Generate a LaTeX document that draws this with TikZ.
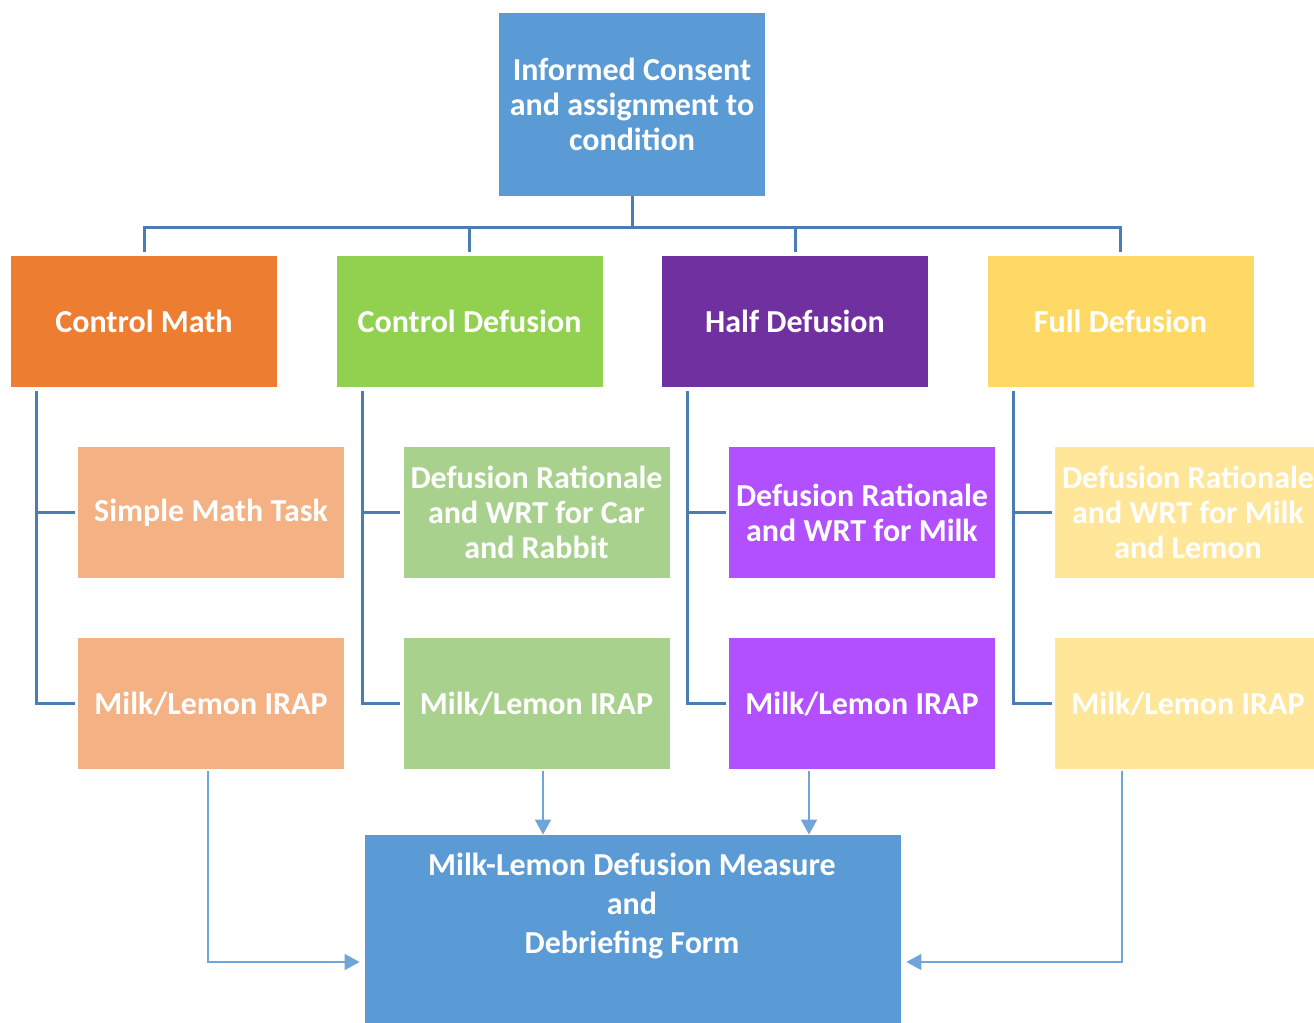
\documentclass[tikz,border=0pt]{standalone}
\usepackage{fontspec}
\setmainfont{Carlito}
\usetikzlibrary{arrows.meta}
\definecolor{cblue}{HTML}{5B9BD5}
\definecolor{corange}{HTML}{ED7D31}
\definecolor{cgreen}{HTML}{92D050}
\definecolor{cpurple}{HTML}{7030A0}
\definecolor{cyellow}{HTML}{FFD966}
\definecolor{lorange}{HTML}{F4B183}
\definecolor{lgreen}{HTML}{A9D18E}
\definecolor{lpurple}{HTML}{B24FFF}
\definecolor{lyellow}{HTML}{FFE699}
\definecolor{treec}{HTML}{4A7EB2}
\definecolor{arrc}{HTML}{6FA5DA}
\tikzset{
  box/.style={rectangle, inner sep=0pt, minimum width=133pt, minimum height=65.5pt,
    text=white, align=center, font=\fontsize{16}{17.5}\selectfont\bfseries},
  tree/.style={draw=treec, line width=1.5pt},
  arr/.style={draw=arrc, line width=0.8pt, -{Triangle[length=7.5pt,width=8pt]}, color=arrc},
}
\begin{document}
\begin{tikzpicture}[x=0.5pt,y=-0.5pt]
\clip (0,0) rectangle (1314,1023);
\fill[white] (0,0) rectangle (1314,1023);
% top
\node[box, fill=cblue, minimum height=91.5pt] (top) at (632,104.5) {Informed Consent\\and assignment to\\condition};
% row 1
\node[box, fill=corange] (cm) at (144,321.5) {Control Math};
\node[box, fill=cgreen] (cd) at (469.5,321.5) {Control Defusion};
\node[box, fill=cpurple] (hd) at (795,321.5) {Half Defusion};
\node[box, fill=cyellow] (fd) at (1120.5,321.5) {Full Defusion};
% row 2
\node[box, fill=lorange] (s1) at (211,512.5) {Simple Math Task};
\node[box, fill=lgreen] (s2) at (536.5,512.5) {Defusion Rationale\\and WRT for Car\\and Rabbit};
\node[box, fill=lpurple] (s3) at (862,512.5) {Defusion Rationale\\and WRT for Milk};
\node[box, fill=lyellow] (s4) at (1188,512.5) {Defusion Rationale\\and WRT for Milk\\and Lemon};
% row 3
\node[box, fill=lorange] (i1) at (211,703.5) {Milk/Lemon IRAP};
\node[box, fill=lgreen] (i2) at (536.5,703.5) {Milk/Lemon IRAP};
\node[box, fill=lpurple] (i3) at (862,703.5) {Milk/Lemon IRAP};
\node[box, fill=lyellow] (i4) at (1188,703.5) {Milk/Lemon IRAP};
% bottom
\node[box, fill=cblue, minimum width=268pt, minimum height=127pt] (bot) at (633,962) {};
\node[box, minimum width=0pt, minimum height=0pt, font=\fontsize{16}{19.5}\selectfont\bfseries] (bott) at (632,906) {Milk-Lemon Defusion Measure\\and\\Debriefing Form};
% top connectors
\foreach \n in {cm,cd,hd,fd}{
  \draw[tree] (top.south) -- ++(0,31) -| ([yshift=2pt]\n.north);
}
% trees
\foreach \p/\a/\b in {cm/s1/i1, cd/s2/i2, hd/s3/i3, fd/s4/i4}{
  \draw[tree] ([xshift=13pt,yshift=-2pt]\p.south west) |- ([xshift=-1.5pt]\a.west);
  \draw[tree] ([xshift=13pt,yshift=-2pt]\p.south west) |- ([xshift=-1.5pt]\b.west);
}
% arrows to bottom
\draw[arr, shorten >=2.5pt] ([xshift=-1.5pt,yshift=-1pt]i1.south) |- (bot.west);
\draw[arr] ([xshift=3.25pt,yshift=-1pt]i2.south) -- ([xshift=3.25pt]bot.north -| i2.south);
\draw[arr] ([xshift=-26.5pt,yshift=-1pt]i3.south) -- ([xshift=-26.5pt]bot.north -| i3.south);
\draw[arr, shorten >=2.5pt] ([xshift=-33pt,yshift=-1pt]i4.south) |- (bot.east);
\end{tikzpicture}
\end{document}
